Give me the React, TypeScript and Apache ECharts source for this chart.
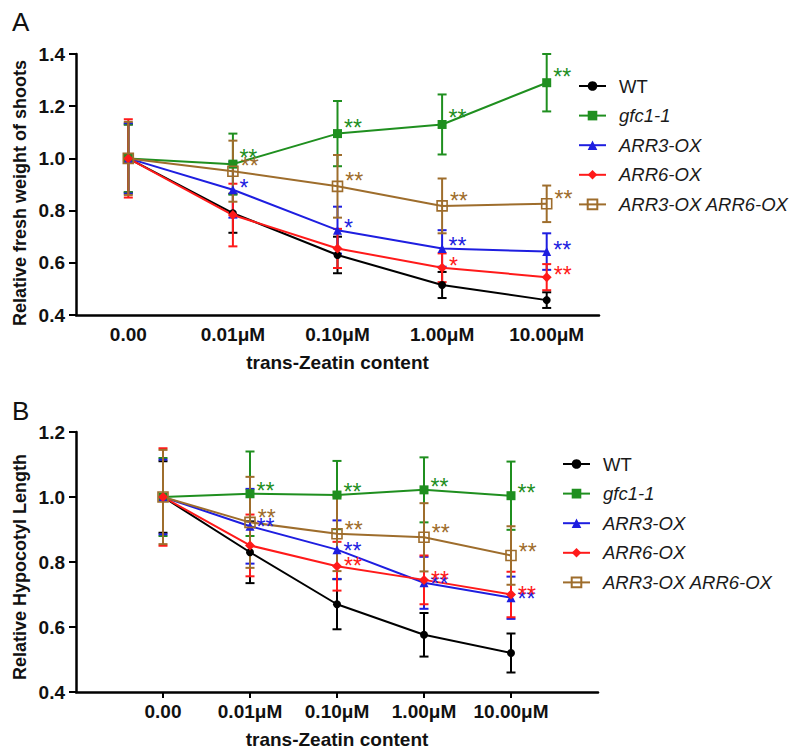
import React, { useEffect, useRef } from "react";
import * as echarts from "echarts";

const seriesNames = ["WT", "gfc1-1", "ARR3-OX", "ARR6-OX", "ARR3-OX ARR6-OX"];
const categoriesA = ["0.00", "0.01μM", "0.10μM", "1.00μM", "10.00μM"];
const categoriesB = ["", "0.00", "0.01μM", "0.10μM", "1.00μM", "10.00μM", " "];
const yTicksA = [0.4, 1.4, 0.2];
const yTicksB = [0.4, 1.2, 0.2];
const yTitleA = "Relative fresh weight of shoots";
const yTitleB = "Relative Hypocotyl Length";
const xTitle = "trans-Zeatin content";

// Panel A: relative fresh weight of shoots (mean, error)
const wtA = [1.0, 0.79, 0.63, 0.515, 0.457];
const gfcA = [1.0, 0.978, 1.095, 1.13, 1.29];
const arr3A = [1.0, 0.88, 0.725, 0.655, 0.643];
const arr6A = [1.0, 0.783, 0.655, 0.581, 0.545];
const dblA = [1.0, 0.951, 0.893, 0.818, 0.826];
const wtErrA = [0.13, 0.075, 0.07, 0.05, 0.03];
const gfcErrA = [0.13, 0.117, 0.125, 0.115, 0.11];
const arr3ErrA = [0.135, 0.107, 0.09, 0.07, 0.07];
const arr6ErrA = [0.15, 0.12, 0.075, 0.055, 0.05];
const dblErrA = [0.14, 0.117, 0.12, 0.105, 0.07];
const wtSigA = ["", "", "", "", ""];
const gfcSigA = ["", "**", "**", "**", "**"];
const arr3SigA = ["", "*", "*", "**", "**"];
const arr6SigA = ["", "", "", "*", "**"];
const dblSigA = ["", "**", "**", "**", "**"];

// Panel B: relative hypocotyl length (mean, error)
const wtB = [1.0, 0.83, 0.67, 0.576, 0.52];
const gfcB = [1.0, 1.01, 1.006, 1.022, 1.004];
const arr3B = [1.0, 0.91, 0.838, 0.736, 0.69];
const arr6B = [1.0, 0.851, 0.787, 0.745, 0.7];
const dblB = [1.0, 0.922, 0.887, 0.876, 0.82];
const wtErrB = [0.11, 0.095, 0.077, 0.067, 0.06];
const gfcErrB = [0.12, 0.13, 0.105, 0.1, 0.105];
const arr3ErrB = [0.115, 0.115, 0.09, 0.08, 0.065];
const arr6ErrB = [0.15, 0.095, 0.075, 0.075, 0.07];
const dblErrB = [0.145, 0.14, 0.115, 0.105, 0.09];
const wtSigB = ["", "", "", "", ""];
const gfcSigB = ["", "**", "**", "**", "**"];
const arr3SigB = ["", "**", "**", "**", "**"];
const arr6SigB = ["", "", "**", "**", "**"];
const dblSigB = ["", "**", "**", "**", "**"];

const FONT = "'Liberation Sans', Arial, sans-serif";
const colors = ["#000000", "#1f8f1f", "#1e1ee0", "#ff1a1a", "#9e6d2c"];
const symbols = ["circle", "rect", "triangle", "diamond", "rect"];
const symbolSizes = [8, 9, 9, 10, 10];
const starOffsetA = [0, -6, -2, -2, -5];
const starOffsetB = [0, -3, 1, 0, -4];

function buildSeries(
  panel: number,
  means: number[][],
  errs: number[][],
  sigs: string[][],
  xShift: number,
  starOffsets: number[]
) {
  const out: any[] = [];
  means.forEach((m, s) => {
    const color = colors[s];
    out.push({
      type: "custom",
      name: seriesNames[s] + "-err-" + panel,
      xAxisIndex: panel,
      yAxisIndex: panel,
      z: 2,
      data: m.map((v, i) => [i + xShift, v, errs[s][i]]),
      encode: { x: 0, y: 1 },
      renderItem: (params: any, api: any) => {
        const x = api.value(0);
        const mv = api.value(1);
        const e = api.value(2);
        const top = api.coord([x, mv + e]);
        const bot = api.coord([x, mv - e]);
        const cx = top[0];
        const w = 4.5;
        const st = { stroke: color, lineWidth: 2 };
        return {
          type: "group",
          children: [
            { type: "line", shape: { x1: cx, y1: top[1], x2: cx, y2: bot[1] }, style: st },
            { type: "line", shape: { x1: cx - w, y1: top[1], x2: cx + w, y2: top[1] }, style: st },
            { type: "line", shape: { x1: cx - w, y1: bot[1], x2: cx + w, y2: bot[1] }, style: st },
          ],
        };
      },
    });
    const hollow = s === 4;
    out.push({
      type: "line",
      name: seriesNames[s],
      xAxisIndex: panel,
      yAxisIndex: panel,
      z: 3,
      data: m.map((v, i) => [i + xShift, v]),
      symbol: symbols[s],
      symbolSize: symbolSizes[s],
      showAllSymbol: true,
      lineStyle: { color, width: 2 },
      itemStyle: hollow
        ? { color: "rgba(255,255,255,0)", borderColor: color, borderWidth: 1.6 }
        : { color },
      label: {
        show: true,
        position: "right",
        distance: 2,
        offset: [0, starOffsets[s]],
        color,
        fontSize: 23,
        fontFamily: FONT,
        formatter: (p: any) => sigs[s][p.dataIndex] || "",
      },
      emphasis: { disabled: true },
    });
  });
  return out;
}

function legendFor(left: number, top: number) {
  return {
    orient: "vertical",
    left,
    top,
    selectedMode: false,
    itemWidth: 27,
    itemHeight: 12,
    itemGap: 9.6,
    data: seriesNames,
    formatter: (name: string) => (name === "WT" ? name : `{i|${name}}`),
    textStyle: {
      fontFamily: FONT,
      fontSize: 18.5,
      color: "#1a1a1a",
      lineHeight: 20,
      padding: [0, 0, 0, 8],
      rich: { i: { fontStyle: "italic", fontSize: 18.5, fontFamily: FONT, color: "#1a1a1a" } },
    },
  };
}

const axisLabelStyle = { fontFamily: FONT, fontSize: 19, fontWeight: "bold", color: "#111" };

function yTitle(text: string, x: number, y: number) {
  return {
    type: "text",
    x,
    y,
    rotation: Math.PI / 2,
    style: {
      text,
      fontFamily: FONT,
      fontSize: 18,
      fontWeight: "bold",
      fill: "#111",
      textAlign: "center",
      textVerticalAlign: "middle",
    },
  };
}

export default function App() {
  const ref = useRef<HTMLDivElement>(null);
  useEffect(() => {
    document.body.style.margin = "0";
    const chart = echarts.init(ref.current!, null, { renderer: "svg" });
    const seriesA = buildSeries(
      0,
      [wtA, gfcA, arr3A, arr6A, dblA],
      [wtErrA, gfcErrA, arr3ErrA, arr6ErrA, dblErrA],
      [wtSigA, gfcSigA, arr3SigA, arr6SigA, dblSigA],
      0,
      starOffsetA
    );
    const seriesB = buildSeries(
      1,
      [wtB, gfcB, arr3B, arr6B, dblB],
      [wtErrB, gfcErrB, arr3ErrB, arr6ErrB, dblErrB],
      [wtSigB, gfcSigB, arr3SigB, arr6SigB, dblSigB],
      1,
      starOffsetB
    );
    const yAxisCommon = (ticks: number[]) => ({
      type: "value",
      min: ticks[0],
      max: ticks[1],
      interval: ticks[2],
      splitLine: { show: false },
      axisLine: { show: true, lineStyle: { color: "#000", width: 2.5 } },
      axisTick: { show: true, length: 7, lineStyle: { color: "#000", width: 2 } },
      axisLabel: { ...axisLabelStyle, margin: 11, formatter: (v: number) => v.toFixed(1) },
    });
    const xName = {
      name: xTitle,
      nameLocation: "middle",
      nameGap: 38,
      nameTextStyle: { fontFamily: FONT, fontSize: 19, fontWeight: "bold", color: "#111" },
    };
    const option: any = {
      animation: false,
      backgroundColor: "#ffffff",
      title: [
        { text: "A", left: 12, top: 9, padding: 0, textStyle: { fontFamily: FONT, fontSize: 26, fontWeight: "normal", color: "#111" } },
        { text: "B", left: 12, top: 398, padding: 0, textStyle: { fontFamily: FONT, fontSize: 26, fontWeight: "normal", color: "#111" } },
      ],
      graphic: [yTitle(yTitleA, 20, 193), yTitle(yTitleB, 20, 567)],
      legend: [legendFor(573, 71), legendFor(557, 449)],
      grid: [
        { left: 76, top: 54, width: 523, height: 261 },
        { left: 76, top: 432, width: 522, height: 261 },
      ],
      xAxis: [
        {
          type: "category",
          gridIndex: 0,
          data: categoriesA,
          boundaryGap: true,
          ...xName,
          axisLine: { lineStyle: { color: "#000", width: 2.5 } },
          axisTick: { alignWithLabel: true, length: 6, lineStyle: { color: "#000", width: 2 } },
          axisLabel: { ...axisLabelStyle, margin: 10, interval: 0 },
        },
        {
          type: "category",
          gridIndex: 1,
          data: categoriesB,
          boundaryGap: false,
          ...xName,
          axisLine: { lineStyle: { color: "#000", width: 2.5 } },
          axisTick: {
            length: 6,
            interval: (i: number) => i > 0 && i < categoriesB.length - 1,
            lineStyle: { color: "#000", width: 2 },
          },
          axisLabel: { ...axisLabelStyle, margin: 10, interval: 0 },
        },
      ],
      yAxis: [
        { ...yAxisCommon(yTicksA), gridIndex: 0 },
        { ...yAxisCommon(yTicksB), gridIndex: 1 },
      ],
      series: [...seriesA, ...seriesB],
    };
    chart.setOption(option);
    return () => chart.dispose();
  }, []);
  return <div ref={ref} style={{ width: 791, height: 750 }} />;
}
